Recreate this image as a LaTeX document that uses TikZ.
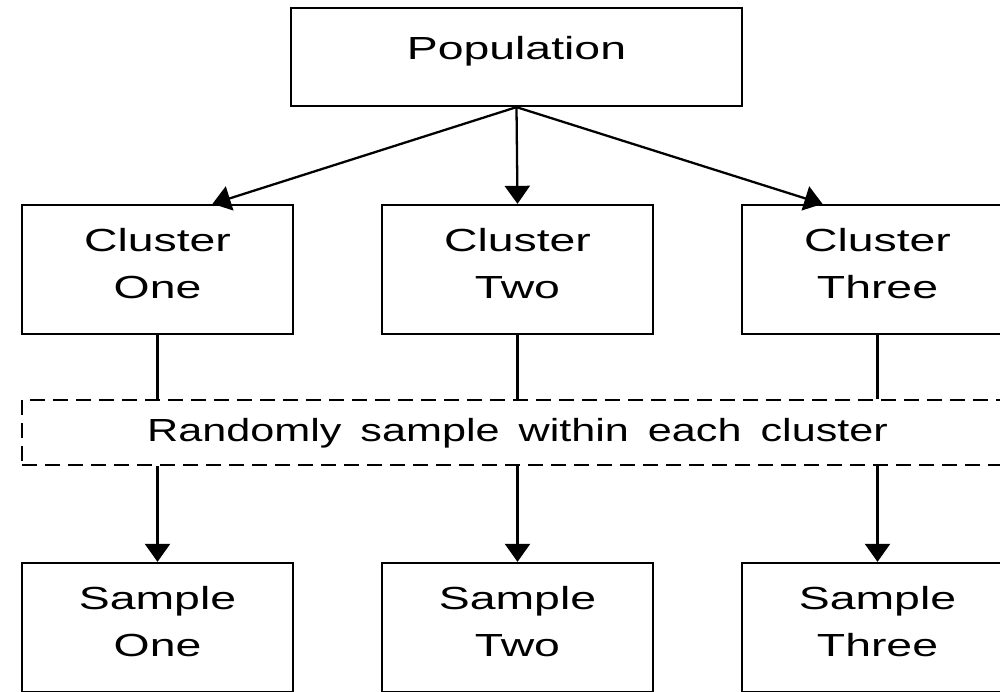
\documentclass[tikz,border=0pt]{standalone}
\usepackage{fontspec}
\setmainfont{Liberation Sans}[FakeStretch=1.45]
\newfontfamily\narrowfont{Liberation Sans}[FakeStretch=1.35]
\usetikzlibrary{arrows.meta}

\begin{document}
\begin{tikzpicture}[
    box/.style={draw, line width=1.3pt, inner sep=0pt, minimum width=5.42cm, minimum height=2.58cm,
      align=center, text height=1.87cm, text depth=0.71cm},
    arr/.style={line width=1.3pt, -{Triangle[length=0.36cm,width=0.5cm]}},
    font=\fontsize{18.2}{26.7}\selectfont]
    \useasboundingbox (0,0) rectangle (20,-13.84);
    \node[box, minimum width=9.02cm, minimum height=1.96cm, text height=1.04cm, text depth=0.92cm] (pop) at (10.33,-1.14) {Population};
    \node[box] (c1) at (3.15,-5.39) {Cluster\\One};
    \node[box] (c2) at (10.35,-5.39) {Cluster\\Two};
    \node[box] (c3) at (17.55,-5.39) {Cluster\\Three};
    \node[box, dashed, dash pattern=on 0.3cm off 0.16cm, minimum width=19.82cm, minimum height=1.3cm,
      text height=0.84cm, text depth=0.46cm] (rs) at (10.35,-8.65)
      {\narrowfont\spaceskip=0.38cm Randomly sample within each cluster};
    \node[box] (s1) at (3.15,-12.55) {Sample\\One};
    \node[box] (s2) at (10.35,-12.55) {Sample\\Two};
    \node[box] (s3) at (17.55,-12.55) {Sample\\Three};
    \draw[arr] (pop.south) -- ([xshift=1.1cm]c1.north);
    \draw[arr] (pop.south) -- (c2.north);
    \draw[arr] (pop.south) -- ([xshift=-1.1cm]c3.north);
    \foreach \i in {1,2,3} {
      \draw[line width=1.3pt] (c\i.south) -- (c\i.south |- rs.north);
      \draw[arr] (c\i.south |- rs.south) -- (s\i.north);
    }
\end{tikzpicture}
\end{document}
